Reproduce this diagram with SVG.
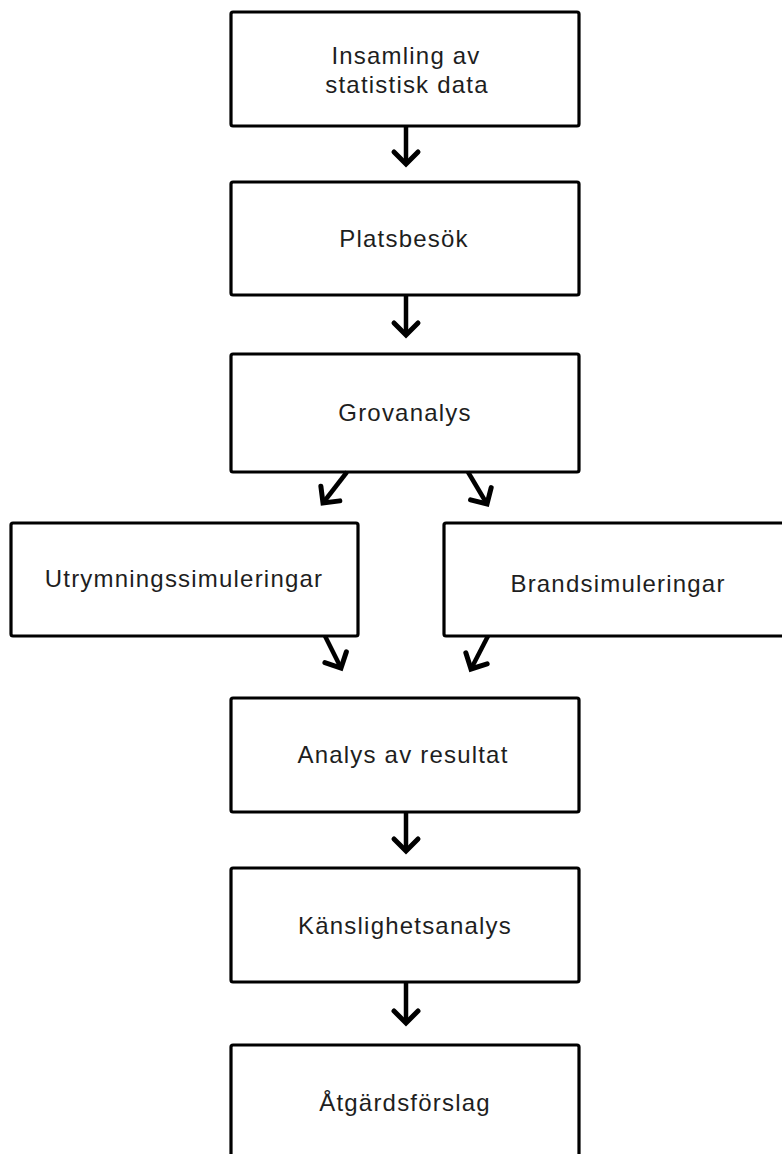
<svg xmlns="http://www.w3.org/2000/svg" width="782" height="1154" viewBox="0 0 782 1154">
  <style>
    .box { fill: #ffffff; stroke: #000000; stroke-width: 3.2; }
    .lbl { font-family: "Liberation Sans", Arial, sans-serif; font-size: 24px; letter-spacing: 1.2px; fill: #1e1e1e; text-anchor: middle; }
    .conn { stroke: #000000; stroke-width: 4.5; fill: none; }
  </style>
  <defs>
    <marker id="arrow" markerUnits="userSpaceOnUse" markerWidth="40" markerHeight="40" viewBox="-20 -20 40 40" refX="0" refY="0" orient="auto" overflow="visible">
      <path d="M-12,-12 L0,0 L-12,12" fill="none" stroke="#000000" stroke-width="5" stroke-linejoin="miter" stroke-linecap="round"/>
    </marker>
  </defs>
  <rect width="782" height="1154" fill="#ffffff"/>

  <g id="n1">
    <rect class="box" x="231" y="12" width="348" height="114" rx="2"/>
    <text class="lbl" x="406" y="64">Insamling av</text>
    <text class="lbl" x="407" y="93">statistisk data</text>
  </g>
  <g id="n2">
    <rect class="box" x="231" y="182" width="348" height="113" rx="2"/>
    <text class="lbl" x="404" y="247">Platsbesök</text>
  </g>
  <g id="n3">
    <rect class="box" x="231" y="354" width="348" height="118" rx="2"/>
    <text class="lbl" x="405" y="421">Grovanalys</text>
  </g>
  <g id="n4">
    <rect class="box" x="11" y="523" width="347" height="113" rx="2"/>
    <text class="lbl" x="184" y="587">Utrymningssimuleringar</text>
  </g>
  <g id="n5">
    <rect class="box" x="444" y="523" width="348" height="113" rx="2"/>
    <text class="lbl" x="618" y="592">Brandsimuleringar</text>
  </g>
  <g id="n6">
    <rect class="box" x="231" y="698" width="348" height="114" rx="2"/>
    <text class="lbl" x="403" y="763">Analys av resultat</text>
  </g>
  <g id="n7">
    <rect class="box" x="231" y="868" width="348" height="114" rx="2"/>
    <text class="lbl" x="405" y="934">Känslighetsanalys</text>
  </g>
  <g id="n8">
    <rect class="box" x="231" y="1045" width="348" height="120" rx="2"/>
    <text class="lbl" x="405" y="1111">Åtgärdsförslag</text>
  </g>

  <g id="connectors">
    <line class="conn" x1="406" y1="126" x2="406" y2="164" marker-end="url(#arrow)"/>
    <line class="conn" x1="406" y1="295" x2="406" y2="335" marker-end="url(#arrow)"/>
    <line class="conn" x1="347" y1="472" x2="323" y2="503" marker-end="url(#arrow)"/>
    <line class="conn" x1="468" y1="472" x2="487" y2="504" marker-end="url(#arrow)"/>
    <line class="conn" x1="325" y1="636" x2="341" y2="668" marker-end="url(#arrow)"/>
    <line class="conn" x1="488" y1="636" x2="471" y2="669" marker-end="url(#arrow)"/>
    <line class="conn" x1="406" y1="812" x2="406" y2="851" marker-end="url(#arrow)"/>
    <line class="conn" x1="406" y1="982" x2="406" y2="1023" marker-end="url(#arrow)"/>
  </g>
</svg>
